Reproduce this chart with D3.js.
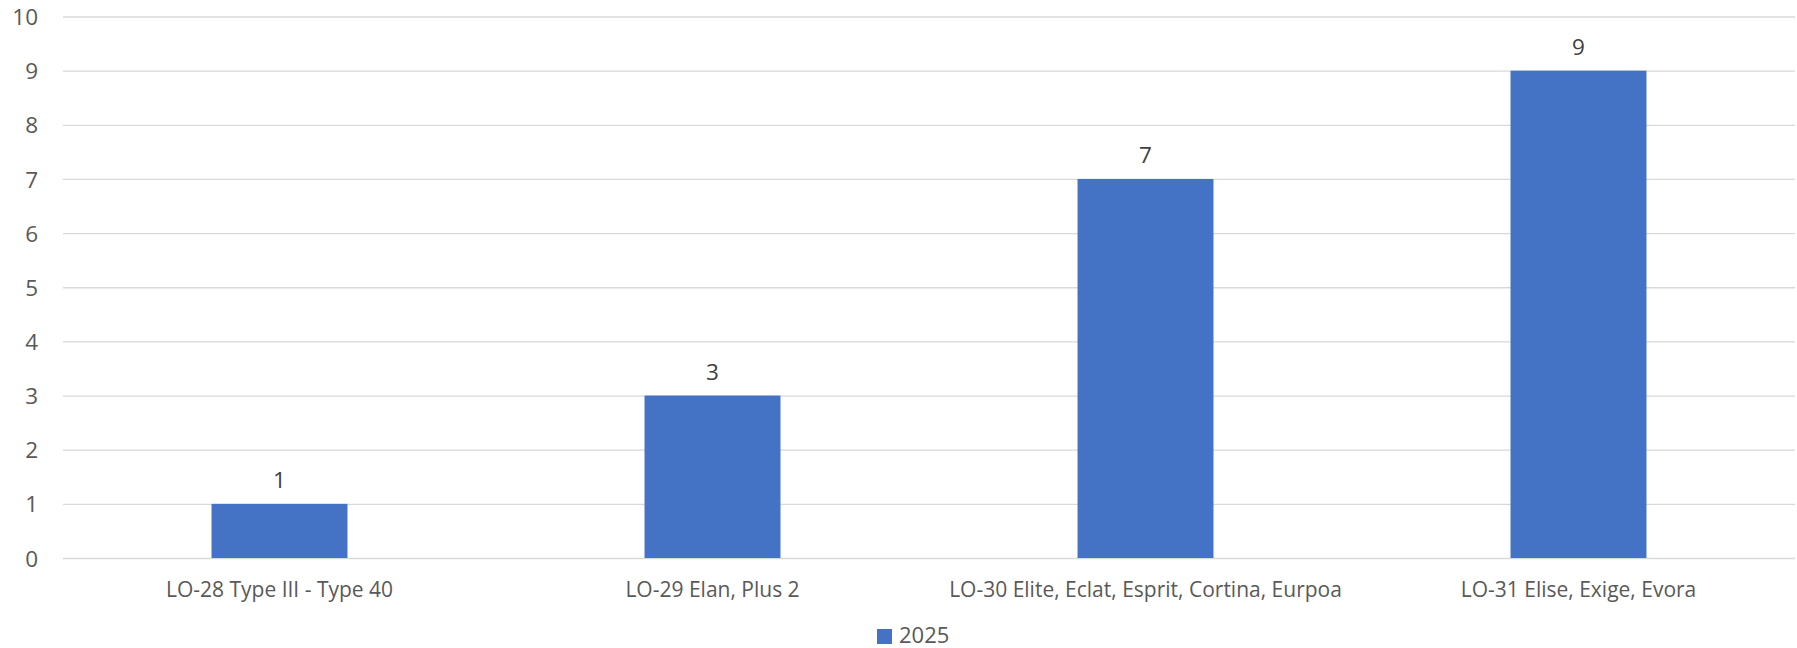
<!DOCTYPE html>
<html><head><meta charset="utf-8">
<script src="https://cdn.jsdelivr.net/npm/d3@7"></script>
<style>html,body{margin:0;padding:0;background:#fff;}svg{display:block;}</style>
</head><body>
<svg id="chart" width="1797" height="648"></svg>
<script>
const categories = ["LO-28 Type III - Type 40", "LO-29 Elan, Plus 2", "LO-30 Elite, Eclat, Esprit, Cortina, Eurpoa", "LO-31 Elise, Exige, Evora"];
const values2025 = [1, 3, 7, 9];
const yTicks = [0,1,2,3,4,5,6,7,8,9,10];
const seriesName = "2025";

const W = 1797, H = 648;
const m = {left: 63, right: 2, top: 16.5, bottom: 90};
const font = "'Open Sans', sans-serif";
const textColor = "#595959";
const svg = d3.select("#chart");

const x = d3.scaleBand().domain(categories).range([m.left, W - m.right]).paddingInner(0.686).paddingOuter(0.343);
const y = d3.scaleLinear().domain([0, 10]).range([558, m.top]);

// gridlines
const grid = svg.append("g").call(d3.axisLeft(y).tickValues(yTicks).tickSize(-(W - m.right - m.left)).tickFormat(""))
  .attr("transform", `translate(${m.left},0)`);
grid.select(".domain").remove();
grid.selectAll("line").attr("stroke", "#d9d9d9").attr("stroke-width", 1.3);

// y labels
const yAx = svg.append("g").attr("transform", `translate(${m.left},0)`).call(d3.axisLeft(y).tickValues(yTicks).tickSize(0).tickPadding(25));
yAx.select(".domain").remove();
yAx.selectAll("text").attr("font-family", font).attr("font-size", 22.5).attr("fill", textColor).attr("dy", "0.36em");

// bars
svg.append("g").selectAll("rect").data(values2025).join("rect")
  .attr("x", (d, i) => x(categories[i]))
  .attr("y", d => y(d))
  .attr("width", x.bandwidth())
  .attr("height", d => y(0) - y(d))
  .attr("fill", "#4472c4");

// value labels
svg.append("g").selectAll("text").data(values2025).join("text")
  .attr("x", (d, i) => x(categories[i]) + x.bandwidth() / 2)
  .attr("y", d => y(d) - 16)
  .attr("text-anchor", "middle")
  .attr("font-family", font).attr("font-size", 22.5).attr("fill", "#404040")
  .text(d => d);

// x labels
const xAx = svg.append("g").attr("transform", `translate(0,558)`).call(d3.axisBottom(x).tickSize(0).tickPadding(0));
xAx.select(".domain").remove();
xAx.selectAll("text").attr("font-family", font).attr("font-size", 21).attr("fill", textColor).attr("y", 39).attr("dy", 0);

// legend
const lg = svg.append("g");
lg.append("rect").attr("x", 877).attr("y", 629).attr("width", 15).attr("height", 15).attr("fill", "#4472c4");
lg.append("text").attr("x", 899).attr("y", 643).attr("font-family", font).attr("font-size", 22).attr("fill", textColor).text(seriesName);
</script>
</body></html>
